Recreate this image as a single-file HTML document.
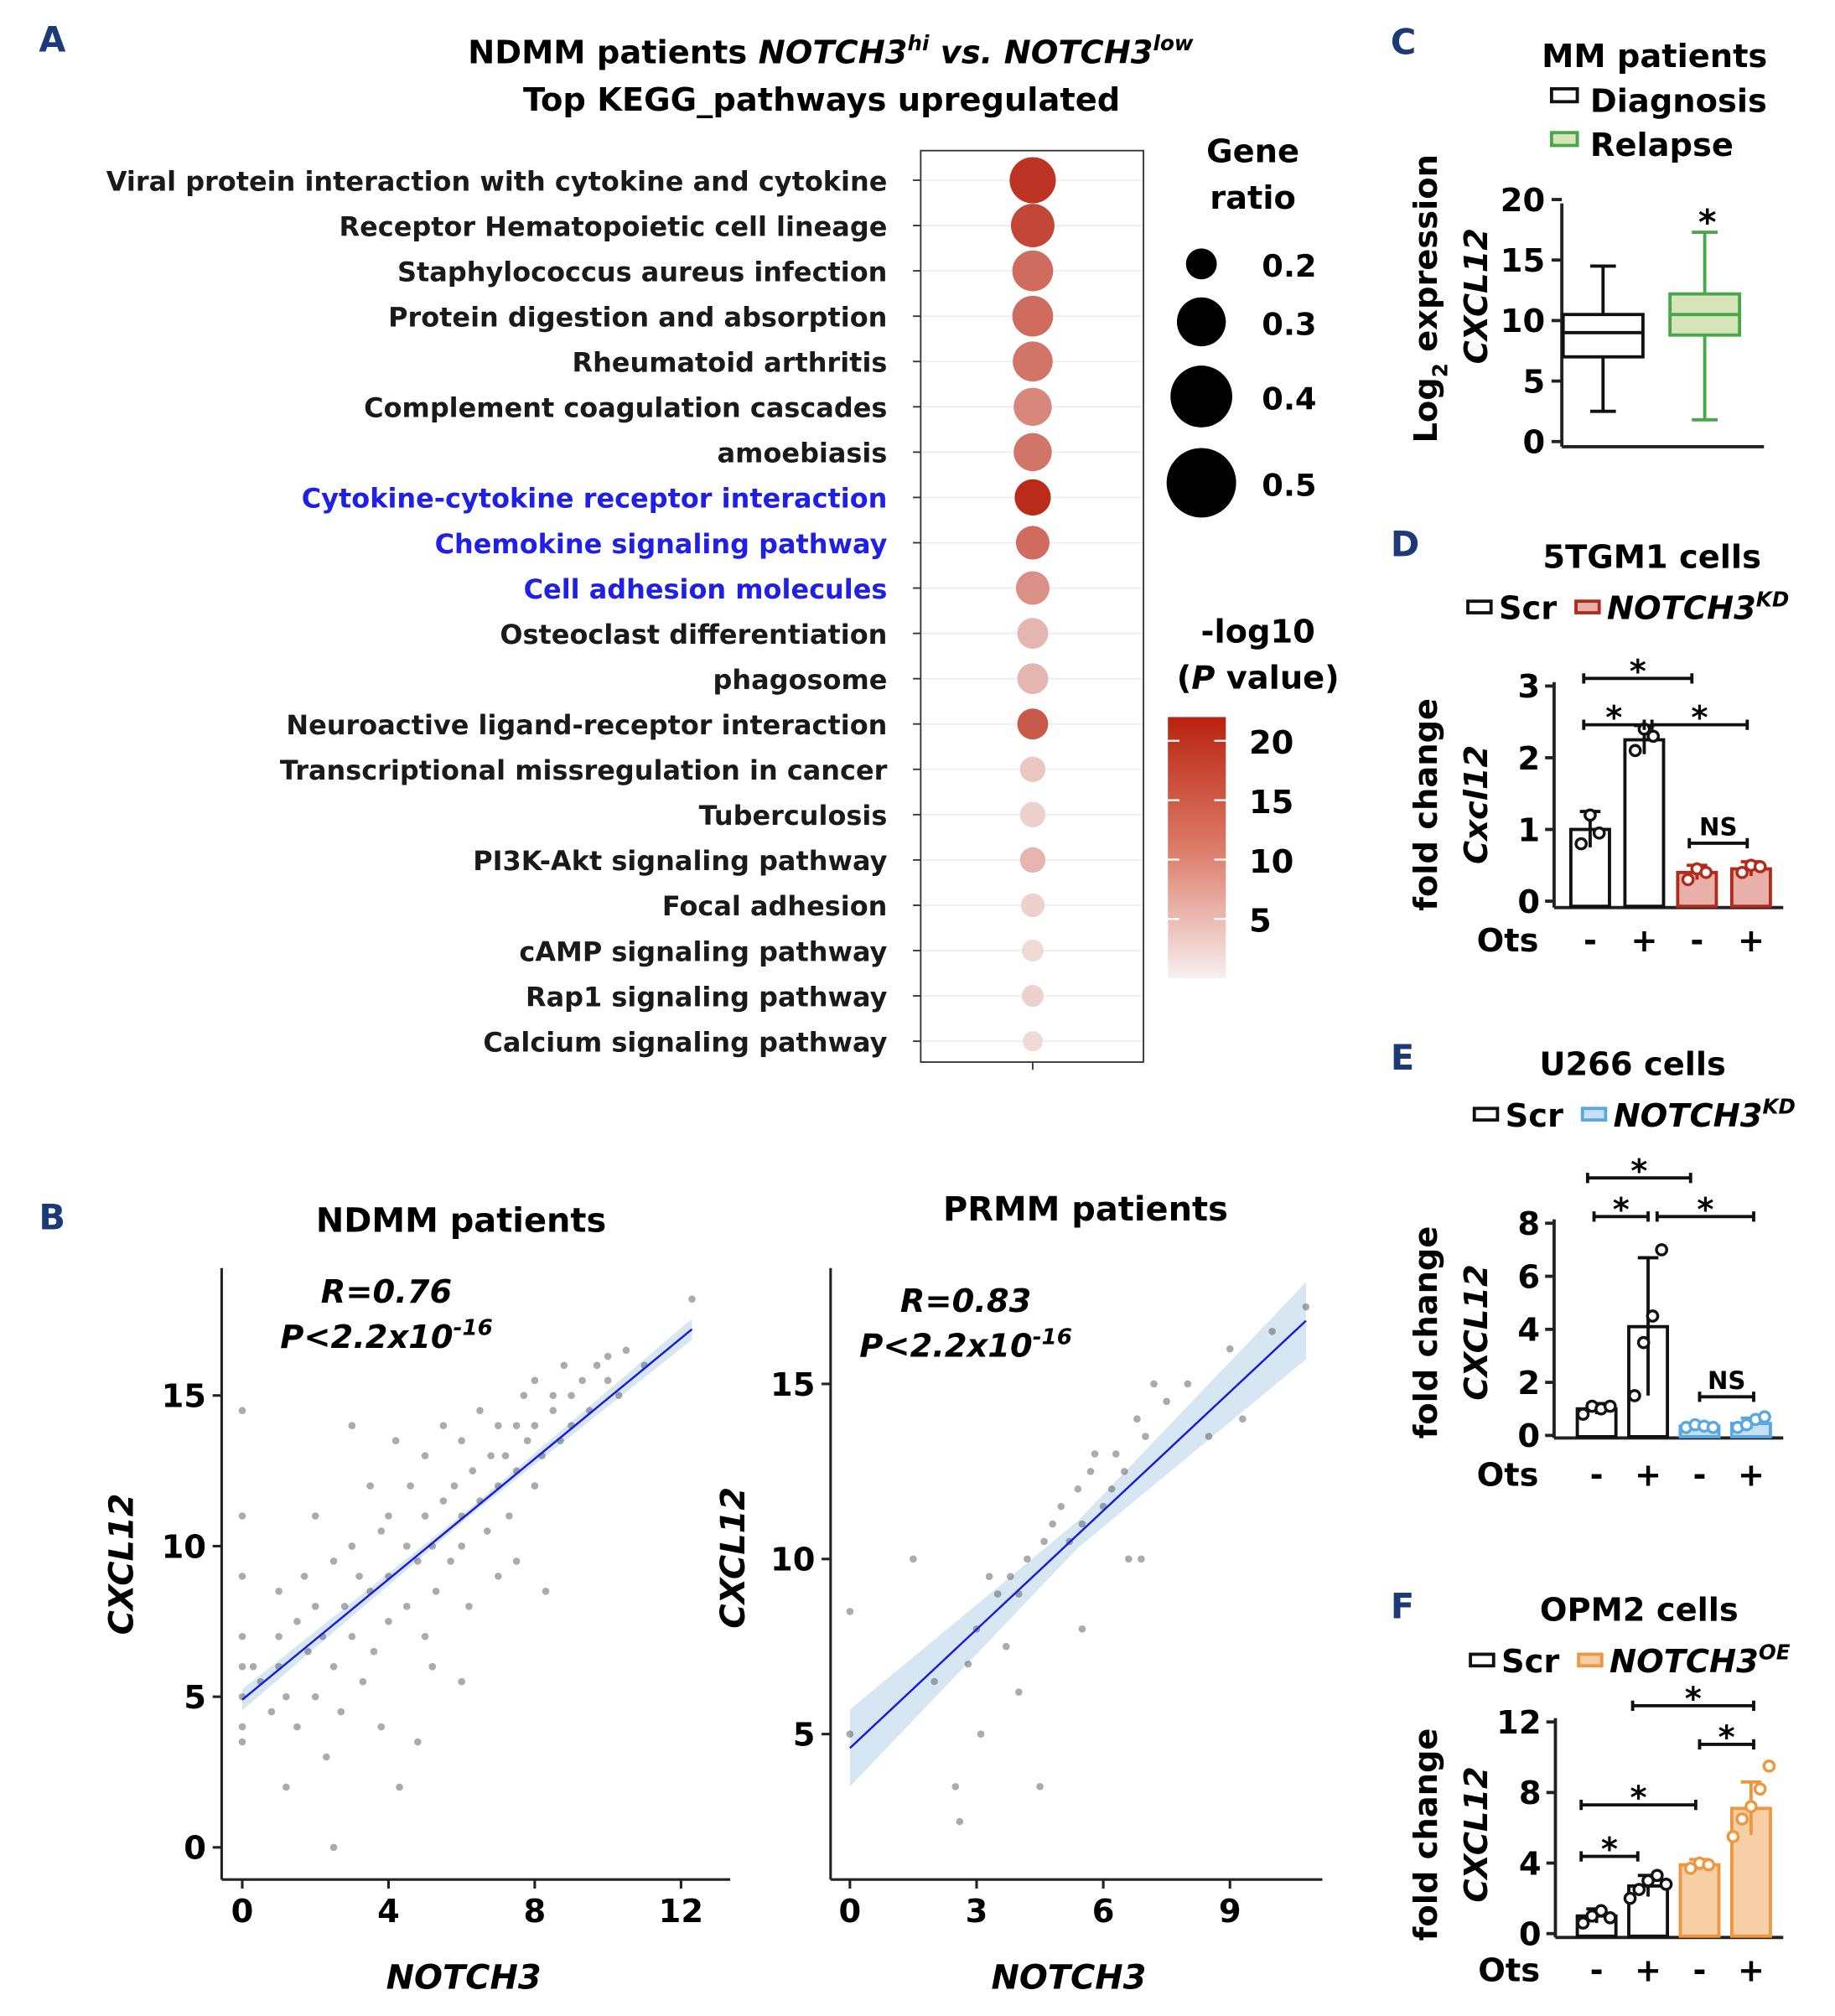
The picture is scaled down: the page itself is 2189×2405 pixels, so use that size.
<!DOCTYPE html>
<html><head><meta charset="utf-8">
<style>
html,body{margin:0;padding:0;background:#fff;}
svg{display:block;font-family:"DejaVu Sans","Liberation Sans",Arial,sans-serif;}
</style></head>
<body>
<svg id="fig" width="2189" height="2405" viewBox="0 0 1425 1566" xmlns="http://www.w3.org/2000/svg">
<g id="panelA"></g>
<g id="panelB"></g>
<g id="panelC"></g>
<g id="panelD"></g>
<g id="panelE"></g>
<g id="panelF"></g>
</svg>
<script>
// ---------- Panel A data ----------
const keggPathways = ["Viral protein interaction with cytokine and cytokine","Receptor Hematopoietic cell lineage","Staphylococcus aureus infection","Protein digestion and absorption","Rheumatoid arthritis","Complement coagulation cascades","amoebiasis","Cytokine-cytokine receptor interaction","Chemokine signaling pathway","Cell adhesion molecules","Osteoclast differentiation","phagosome","Neuroactive ligand-receptor interaction","Transcriptional missregulation in cancer","Tuberculosis","PI3K-Akt signaling pathway","Focal adhesion","cAMP signaling pathway","Rap1 signaling pathway","Calcium signaling pathway"];
const keggHighlight = [0,0,0,0,0,0,0,1,1,1,0,0,0,0,0,0,0,0,0,0];
const keggGeneRatio = [0.285,0.27,0.255,0.255,0.25,0.24,0.24,0.23,0.215,0.215,0.2,0.2,0.2,0.17,0.17,0.17,0.16,0.15,0.15,0.14];
const keggLogP = [20,18,14,14,13,11,13,21,14,10,6,6,16,4,3,6,3,2,3,2];
const ratioLegend = [0.2,0.3,0.4,0.5];
const colorTicks = [20,15,10,5];
// ---------- Panel B data ----------
const ndmmX = [0,0,0,0,0,0,0,0,0.3,0.5,0.8,1,1,1,1.2,1.5,1.5,1.7,1.8,2,2,2,2.2,2.3,2.5,2.5,2.7,2.8,3,3,3,3.2,3.3,3.5,3.5,3.6,3.8,4,4,4,4.2,4.3,4.5,4.5,4.6,4.8,5,5,5,5.2,5.3,5.5,5.5,5.7,5.8,6,6,6,6.2,6.3,6.5,6.5,6.7,6.8,7,7,7,7.2,7.3,7.5,7.5,7.7,7.8,8,8,8,8.2,8.3,8.5,8.5,8.7,8.8,9,9,9.3,9.5,9.7,10,10,10.3,10.5,11,12.3,2.5,5.2,3.8,1.2,6,7.5,4.8];
const ndmmY = [5,6,7,9,4,14.5,11,3.5,6,5.5,4.5,7,6,8.5,5,7.5,4,9,6.5,8,5,11,7,3,9.5,6,4.5,8,10,7,14,9,5.5,12,8.5,6.5,10.5,9,7.5,11,13.5,2,10,8,12,9.5,11,7,13,10,8.5,11.5,14,9.5,12,11,10,13.5,8,12.5,11.5,14.5,10.5,13,12,14,9,13,11,14,12.5,15,13.5,14,12,15.5,13,8.5,14.5,15,13.5,16,15,14,15.5,14.5,16,15.5,16.3,15,16.5,16,18.2,0,6,4,2,5.5,9.5,3.5];
const ndmmTicksX = [0,4,8,12];
const ndmmTicksY = [0,5,10,15];
const ndmmFit = [4.9,1.0]; // intercept, slope
const prmmX = [0,0,1.5,2,2.5,2.6,2.8,3,3.1,3.3,3.5,3.7,4,4,4.2,4.5,4.6,4.8,5,5.2,5.4,5.5,5.7,5.8,6,6.2,6.3,6.5,6.6,6.8,7,7.2,7.5,8,8.5,9,9.3,10,10.8,5.5,3.8,6.9];
const prmmY = [8.5,5,10,6.5,3.5,2.5,7,8,5,9.5,9,7.5,9,6.2,10,3.5,10.5,11,11.5,10.5,12,11,12.5,13,11.5,12,13,12.5,10,14,13.5,15,14.5,15,13.5,16,14,16.5,17.2,8,9.5,10];
const prmmTicksX = [0,3,6,9];
const prmmTicksY = [5,10,15];
const prmmFit = [4.6,1.13];
// ---------- Panel C data ----------
const boxGroups = ["Diagnosis","Relapse"];
const boxMin = [2.5,1.8];
const boxQ1 = [7,8.8];
const boxMed = [9,10.5];
const boxQ3 = [10.5,12.2];
const boxMax = [14.5,17.3];
const cTicks = [0,5,10,15,20];
// ---------- Panels D/E/F data ----------
const dValues = [1.0,2.25,0.4,0.45];
const dErr = [0.25,0.2,0.1,0.1];
const dPoints = [[0.8,1.2,0.95],[2.1,2.4,2.3],[0.3,0.45,0.4],[0.4,0.5,0.48]];
const dTicks = [0,1,2,3];
const eValues = [1.0,4.1,0.35,0.45];
const eErr = [0.2,2.6,0.1,0.2];
const ePoints = [[0.8,1.1,1.0,1.1],[1.5,3.5,4.5,7.0],[0.3,0.4,0.35,0.3],[0.3,0.4,0.6,0.7]];
const eTicks = [0,2,4,6,8];
const fValues = [1.0,2.7,3.9,7.1];
const fErr = [0.4,0.6,0.3,1.5];
const fPoints = [[0.6,1.0,1.3,0.9],[2.0,2.5,3.0,3.3,2.8],[3.7,4.0,3.9],[5.5,6.5,7.2,8.2,9.5]];
const fTicks = [0,4,8,12];

const NS="http://www.w3.org/2000/svg";
function mk(parent,tag,attrs,text){const e=document.createElementNS(NS,tag);for(const k in attrs)e.setAttribute(k,attrs[k]);if(text!==undefined)e.textContent=text;parent.appendChild(e);return e;}
const LBL="#1b3a78";

// ===== Panel A =====
(function(){
const g=document.getElementById('panelA');
let t=mk(g,'text',{x:30,y:40,'font-size':27,'font-weight':'bold',fill:LBL},'A');


t=mk(g,'text',{x:645,y:49,'font-size':25,'font-weight':'bold','text-anchor':'middle'});
t.innerHTML='NDMM patients <tspan font-style="italic">NOTCH3<tspan font-size="16" dy="-10">hi</tspan></tspan><tspan dy="10"> </tspan><tspan font-style="italic">vs.</tspan> <tspan font-style="italic">NOTCH3<tspan font-size="16" dy="-10">low</tspan></tspan>';


t=mk(g,'text',{x:638,y:86,'font-size':25,'font-weight':'bold','text-anchor':'middle'},'Top KEGG_pathways upregulated');


const box=mk(g,'rect',{x:715,y:117,width:173,height:708,fill:'#fff',stroke:'#333','stroke-width':1.2});


const yRow=i=>140+i*35.2;
const rad=r=>{if(r<=0.2)return 12+(r-0.2)*70;const xs=[0.2,0.3,0.4,0.5],ys=[12,19,24,27];for(let k=0;k<3;k++){if(r<=xs[k+1])return ys[k]+(r-xs[k])/(xs[k+1]-xs[k])*(ys[k+1]-ys[k]);}return 27;};
const col=v=>{const f=Math.max(0,Math.min(1,v/22));const a=[247,236,234],b=[184,34,16];return 'rgb('+a.map((c,i)=>Math.round(c+(b[i]-c)*f)).join(',')+')';};
keggPathways.forEach((p,i)=>{
  const y=yRow(i);
  let l=mk(g,'line',{x1:716,x2:887,y1:y,y2:y,stroke:'#ececec','stroke-width':1});
  
  
  l=mk(g,'line',{x1:709,x2:715,y1:y,y2:y,stroke:'#333','stroke-width':1.2});
  
  
  const tx=mk(g,'text',{x:689,y:y+8,'font-size':20.8,'font-weight':'bold','text-anchor':'end',fill:keggHighlight[i]?'#1f1fe6':'#1a1a1a'},p);
  
  
  const c=mk(g,'circle',{cx:802,cy:y,r:rad(keggGeneRatio[i]),fill:col(keggLogP[i])});
  
  
});
let x=mk(g,'line',{x1:802,x2:802,y1:825,y2:831,stroke:'#333','stroke-width':1.2});


t=mk(g,'text',{x:973,y:126,'font-size':25,'font-weight':'bold','text-anchor':'middle'},'Gene');


t=mk(g,'text',{x:973,y:162,'font-size':25,'font-weight':'bold','text-anchor':'middle'},'ratio');


const ly=[205,250,308,375];
ratioLegend.forEach((r,i)=>{
  const c=mk(g,'circle',{cx:933,cy:ly[i],r:rad(r),fill:'#000'});
  
  
  const tt=mk(g,'text',{x:980,y:ly[i]+10,'font-size':24,'font-weight':'bold'},r.toFixed(1));
  
  
});
t=mk(g,'text',{x:977,y:499,'font-size':25,'font-weight':'bold','text-anchor':'middle'},'-log10');


t=mk(g,'text',{x:977,y:535,'font-size':25,'font-weight':'bold','text-anchor':'middle'});
t.innerHTML='(<tspan font-style="italic">P</tspan> value)';


const defs=mk(g,'defs',{});
const lg=mk(defs,'linearGradient',{id:'cg',x1:0,y1:0,x2:0,y2:1});
mk(lg,'stop',{offset:'0',  'stop-color':'#b8230f'});
mk(lg,'stop',{offset:'0.5','stop-color':'#dc7a68'});
mk(lg,'stop',{offset:'1',  'stop-color':'#f7f0f0'});
const cb=mk(g,'rect',{x:907,y:557,width:45,height:203,fill:'url(#cg)'});


const cy=v=>557+(22-v)/22*203;
colorTicks.forEach(v=>{
  const l=mk(g,'line',{x1:907,x2:916,y1:cy(v),y2:cy(v),stroke:'#fff','stroke-width':1.5});
  
  
  const l2=mk(g,'line',{x1:943,x2:952,y1:cy(v),y2:cy(v),stroke:'#fff','stroke-width':1.5});
  
  
  const tt=mk(g,'text',{x:970,y:cy(v)+10,'font-size':25,'font-weight':'bold'},String(v));
  
  
});
})();

// ===== Panel B scatter =====
function scatter(g,o){
  const sx=v=>o.x0+v*o.kx, sy=v=>o.y0-v*o.ky;
  let l=mk(g,'line',{x1:o.ax,x2:o.ax,y1:985,y2:o.axY,stroke:'#222','stroke-width':2});
  
  
  l=mk(g,'line',{x1:o.ax,x2:o.axR,y1:o.axY,y2:o.axY,stroke:'#222','stroke-width':2});
  
  
  o.tx.forEach(v=>{
    const t1=mk(g,'line',{x1:sx(v),x2:sx(v),y1:o.axY,y2:o.axY+7,stroke:'#222','stroke-width':2});
    
    
    const tt=mk(g,'text',{x:sx(v),y:o.axY+33,'font-size':25,'font-weight':'bold','text-anchor':'middle'},String(v));
    
    
  });
  o.ty.forEach(v=>{
    const t1=mk(g,'line',{x1:o.ax-7,x2:o.ax,y1:sy(v),y2:sy(v),stroke:'#222','stroke-width':2});
    
    
    const tt=mk(g,'text',{x:o.ax-12,y:sy(v)+9,'font-size':25,'font-weight':'bold','text-anchor':'end'},String(v));
    
    
  });
  const xa=0,xb=o.xmax;
  const f=v=>o.fit[0]+o.fit[1]*v;
  const xm=(xa+xb)/2;
  const hw=v=>o.bw*(0.35+Math.abs(v-xm)/(xb-xa)*1.3);
  const pts=[];for(let k=0;k<=20;k++){const v=xa+(xb-xa)*k/20;pts.push([sx(v),sy(f(v)+hw(v))]);}
  for(let k=20;k>=0;k--){const v=xa+(xb-xa)*k/20;pts.push([sx(v),sy(f(v)-hw(v))]);}
  const band=mk(g,'polygon',{points:pts.map(p=>p.join(',')).join(' '),fill:'#cfe2f1',opacity:0.85});
  
  
  o.X.forEach((v,i)=>{
    const c=mk(g,'circle',{cx:sx(v),cy:sy(o.Y[i]),r:2.8,fill:'#444','fill-opacity':0.45});
    
    
  });
  const fl=mk(g,'line',{x1:sx(xa),y1:sy(f(xa)),x2:sx(xb),y2:sy(f(xb)),stroke:'#1a1adf','stroke-width':1.6});
  
  
  let t=mk(g,'text',{x:o.tcx,y:o.ty0,'font-size':26,'font-weight':'bold','text-anchor':'middle'},o.title);
  
  
  t=mk(g,'text',{x:o.rx,y:o.ry,'font-size':25,'font-weight':'bold','font-style':'italic','text-anchor':'middle'},o.r);
  
  
  t=mk(g,'text',{x:o.rx,y:o.ry+35,'font-size':25,'font-weight':'bold','font-style':'italic','text-anchor':'middle'});
  t.innerHTML='P&lt;2.2x10<tspan font-size="17" dy="-10">-16</tspan>';
  
  
  t=mk(g,'text',{x:o.xtx,y:1545,'font-size':26,'font-weight':'bold','font-style':'italic','text-anchor':'middle'},'NOTCH3');
  
  
  t=mk(g,'text',{x:0,y:0,'font-size':26,'font-weight':'bold','font-style':'italic','text-anchor':'middle',transform:'translate('+o.ytx+','+o.yty+') rotate(-90)'},'CXCL12');
  
  
}
(function(){
const g=document.getElementById('panelB');
const t=mk(g,'text',{x:30,y:955,'font-size':27,'font-weight':'bold',fill:LBL},'B');


scatter(g,{name:'ndmm',X:ndmmX,Y:ndmmY,tx:ndmmTicksX,ty:ndmmTicksY,fit:ndmmFit,x0:188,kx:28.4,y0:1435,ky:23.4,ax:172,axR:567,axY:1460,xmax:12.3,bw:0.35,tcx:358,ty0:957,title:'NDMM patients',rx:300,ry:1012,r:'R=0.76',xtx:360,ytx:103,yty:1215});
scatter(g,{name:'prmm',X:prmmX,Y:prmmY,tx:prmmTicksX,ty:prmmTicksY,fit:prmmFit,x0:660,kx:32.8,y0:1483,ky:27.2,ax:645,axR:1027,axY:1460,xmax:10.8,bw:1.1,tcx:843,ty0:948,title:'PRMM patients',rx:750,ry:1019,r:'R=0.83',xtx:830,ytx:578,yty:1210});
})();

// ===== Panel C =====
(function(){
const g=document.getElementById('panelC');
let t=mk(g,'text',{x:1080,y:42,'font-size':27,'font-weight':'bold',fill:LBL},'C');


t=mk(g,'text',{x:1285,y:52,'font-size':25,'font-weight':'bold','text-anchor':'middle'},'MM patients');


const legFill=['#fff','#d6e4b8'],legStroke=['#111','#4aa64a'];
boxGroups.forEach((nm,i)=>{
  const r=mk(g,'rect',{x:1205,y:69+i*34,width:20,height:10,fill:legFill[i],stroke:legStroke[i],'stroke-width':2.5});
  
  
  const tt=mk(g,'text',{x:1235,y:87+i*34,'font-size':25,'font-weight':'bold'},nm);
  
  
});
const sy=v=>343-v*9.4;
let l=mk(g,'line',{x1:1213,x2:1213,y1:158,y2:347,stroke:'#222','stroke-width':2.5});


l=mk(g,'line',{x1:1213,x2:1370,y1:347,y2:347,stroke:'#222','stroke-width':2.5});


cTicks.forEach(v=>{
  const a=mk(g,'line',{x1:1205,x2:1213,y1:sy(v),y2:sy(v),stroke:'#222','stroke-width':2.5});
  
  
  const tt=mk(g,'text',{x:1200,y:sy(v)+9,'font-size':25,'font-weight':'bold','text-anchor':'end'},String(v));
  
  
});
const cx=[1245,1324],w=[62,54];
boxGroups.forEach((nm,i)=>{
  const s=legStroke[i];
  const wh=mk(g,'line',{x1:cx[i],x2:cx[i],y1:sy(boxMin[i]),y2:sy(boxMax[i]),stroke:s,'stroke-width':2.5});
  
  
  [boxMin[i],boxMax[i]].forEach(v=>{const c=mk(g,'line',{x1:cx[i]-10,x2:cx[i]+10,y1:sy(v),y2:sy(v),stroke:s,'stroke-width':2.5});
    
    });
  const b=mk(g,'rect',{x:cx[i]-w[i]/2,y:sy(boxQ3[i]),width:w[i],height:sy(boxQ1[i])-sy(boxQ3[i]),fill:legFill[i],stroke:s,'stroke-width':2.5});
  
  
  const m=mk(g,'line',{x1:cx[i]-w[i]/2,x2:cx[i]+w[i]/2,y1:sy(boxMed[i]),y2:sy(boxMed[i]),stroke:s,'stroke-width':2.5});
  
  
});
t=mk(g,'text',{x:1326,y:182,'font-size':27,'font-weight':'bold','text-anchor':'middle'},'*');


t=mk(g,'text',{x:0,y:0,'font-size':25,'font-weight':'bold','text-anchor':'middle',transform:'translate(1116,232) rotate(-90)'});
t.innerHTML='Log<tspan font-size="16" dy="8">2</tspan><tspan dy="-8"> expression</tspan>';


t=mk(g,'text',{x:0,y:0,'font-size':25,'font-weight':'bold','font-style':'italic','text-anchor':'middle',transform:'translate(1155,230) rotate(-90)'},'CXCL12');


})();

// ===== Bar panels =====
function barPanel(g,o){
  let t=mk(g,'text',{x:1080,y:o.labY,'font-size':27,'font-weight':'bold',fill:LBL},o.letter);
  
  
  t=mk(g,'text',{x:o.titleX,y:o.titleY,'font-size':25,'font-weight':'bold','text-anchor':'middle'},o.title);
  
  
  const ly=o.titleY+40;
  let r=mk(g,'rect',{x:o.legX,y:ly-14,width:18,height:9,fill:'#fff',stroke:'#111','stroke-width':2.5});
  
  
  t=mk(g,'text',{x:o.legX+24,y:ly,'font-size':25,'font-weight':'bold'},'Scr');
  
  
  r=mk(g,'rect',{x:o.legX+84,y:ly-14,width:18,height:9,fill:o.fill,stroke:o.stroke,'stroke-width':2.5});
  
  
  t=mk(g,'text',{x:o.legX+108,y:ly,'font-size':25,'font-weight':'bold','font-style':'italic'});
  t.innerHTML='NOTCH3<tspan font-size="16" dy="-10">'+o.sup+'</tspan>';
  
  
  const sy=v=>o.y0-v*o.k;
  let l=mk(g,'line',{x1:o.ax,x2:o.ax,y1:sy(o.ticks[o.ticks.length-1])-3,y2:o.axY,stroke:'#222','stroke-width':2.5});
  
  
  l=mk(g,'line',{x1:o.ax,x2:o.axR,y1:o.axY,y2:o.axY,stroke:'#222','stroke-width':2.5});
  
  
  o.ticks.forEach(v=>{
    const a=mk(g,'line',{x1:o.ax-7,x2:o.ax,y1:sy(v),y2:sy(v),stroke:'#222','stroke-width':2.5});
    
    
    const tt=mk(g,'text',{x:o.ax-11,y:sy(v)+9,'font-size':25,'font-weight':'bold','text-anchor':'end'},String(v));
    
    
  });
  const fills=['#fff','#fff',o.fill,o.fill],strokes=['#111','#111',o.stroke,o.stroke];
  o.cx.forEach((c,i)=>{
    const v=o.vals[i];
    const b=mk(g,'rect',{x:c-15,y:sy(v),width:30,height:o.axY-sy(v)-1,fill:fills[i],stroke:strokes[i],'stroke-width':2.5});
    
    
    const e=mk(g,'line',{x1:c,x2:c,y1:sy(v+o.err[i]),y2:sy(Math.max(0,v-o.err[i])),stroke:strokes[i],'stroke-width':2.5});
    
    
    const e2=mk(g,'line',{x1:c-8,x2:c+8,y1:sy(v+o.err[i]),y2:sy(v+o.err[i]),stroke:strokes[i],'stroke-width':2.5});
    
    
    const p=o.pts[i];
    p.forEach((pv,j)=>{
      const dx=(j-(p.length-1)/2)*7;
      const pt=mk(g,'circle',{cx:c+dx,cy:sy(pv),r:4,fill:'#fff',stroke:strokes[i],'stroke-width':2.2});
      
      
    });
    const s=mk(g,'text',{x:c,y:o.otsY,'font-size':25,'font-weight':'bold','text-anchor':'middle'},i%2?'+':'-');
    
    
  });
  t=mk(g,'text',{x:o.ax-12,y:o.otsY,'font-size':25,'font-weight':'bold','text-anchor':'end'},'Ots');
  
  
  o.sig.forEach(s=>{
    const a=mk(g,'line',{x1:s[0],x2:s[1],y1:s[2],y2:s[2],stroke:'#111','stroke-width':2.5});
    
    
    [s[0],s[1]].forEach(xx=>{const q=mk(g,'line',{x1:xx,x2:xx,y1:s[2]-4,y2:s[2]+4,stroke:'#111','stroke-width':2.5});
      
      });
    const st=mk(g,'text',{x:(s[0]+s[1])/2,y:s[3]==='NS'?s[2]-6:s[2]+3,'font-size':s[3]==='NS'?19:25,'font-weight':'bold','text-anchor':'middle'},s[3]);
    
    
  });
  t=mk(g,'text',{x:0,y:0,'font-size':25,'font-weight':'bold','text-anchor':'middle',transform:'translate(1116,'+o.ytY+') rotate(-90)'},'fold change');
  
  
  t=mk(g,'text',{x:0,y:0,'font-size':25,'font-weight':'bold','font-style':'italic','text-anchor':'middle',transform:'translate(1155,'+o.ytY+') rotate(-90)'},o.gene);
  
  
}
barPanel(document.getElementById('panelD'),{key:'d',letter:'D',labY:432,title:'5TGM1 cells',titleX:1283,titleY:441,legX:1140,fill:'#e8b0a8',stroke:'#b22a1c',sup:'KD',vals:dValues,err:dErr,pts:dPoints,ticks:dTicks,y0:700,k:55.7,ax:1207,axR:1385,axY:705,cx:[1235,1277,1318,1360],otsY:739,ytY:625,gene:'Cxcl12',
  sig:[[1230,1314,527,'*'],[1230,1277,563,'*'],[1283,1357,563,'*'],[1312,1357,655,'NS']]});
barPanel(document.getElementById('panelE'),{key:'e',letter:'E',labY:831,title:'U266 cells',titleX:1268,titleY:835,legX:1145,fill:'#c8e0f4',stroke:'#5aa8e0',sup:'KD',vals:eValues,err:eErr,pts:ePoints,ticks:eTicks,y0:1115,k:20.6,ax:1207,axR:1385,axY:1117,cx:[1240,1280,1320,1360],otsY:1154,ytY:1035,gene:'CXCL12',
  sig:[[1233,1313,915,'*'],[1238,1280,945,'*'],[1287,1362,945,'*'],[1320,1362,1085,'NS']]});
barPanel(document.getElementById('panelF'),{key:'f',letter:'F',labY:1257,title:'OPM2 cells',titleX:1273,titleY:1259,legX:1142,fill:'#f6cfa6',stroke:'#f0963e',sup:'OE',vals:fValues,err:fErr,pts:fPoints,ticks:fTicks,y0:1502,k:13.7,ax:1208,axR:1385,axY:1505,cx:[1240,1280,1320,1360],otsY:1539,ytY:1425,gene:'CXCL12',
  sig:[[1268,1362,1325,'*'],[1320,1362,1355,'*'],[1228,1317,1402,'*'],[1228,1272,1442,'*']]});
</script>
</body></html>
